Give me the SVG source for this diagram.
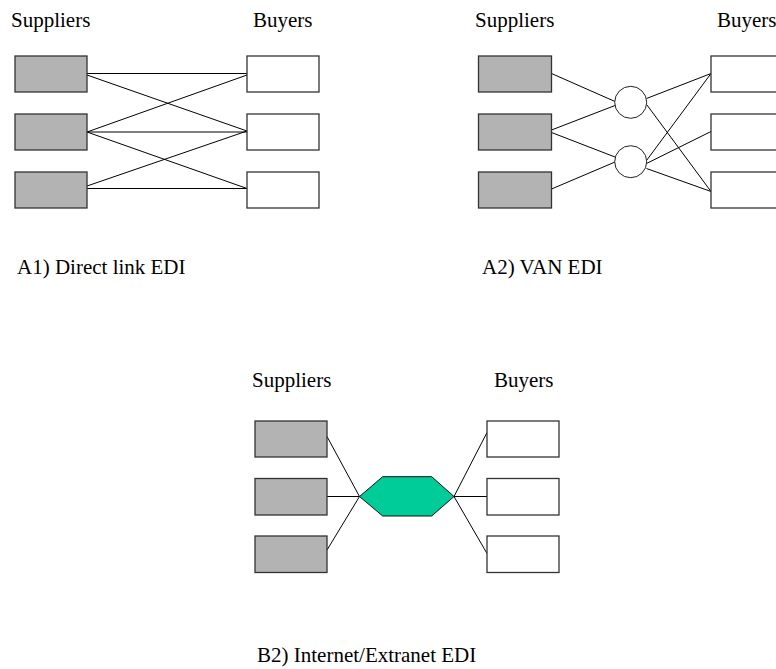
<svg xmlns="http://www.w3.org/2000/svg" width="776" height="669" viewBox="0 0 776 669">
<style>
.s{fill:#b3b3b3;stroke:#333;stroke-width:1.3}
.b{fill:#fff;stroke:#333;stroke-width:1.3}
.c{fill:#fff;stroke:#222;stroke-width:1}
.l{stroke:#000;stroke-width:1;fill:none}
</style>
<rect width="776" height="669" fill="#fff"/>
<g id="connectors">
<line class="l" x1="87" y1="73.5" x2="247" y2="73.5"/>
<line class="l" x1="87" y1="75" x2="247" y2="131"/>
<line class="l" x1="87" y1="132" x2="247" y2="75"/>
<line class="l" x1="87" y1="132" x2="247" y2="132"/>
<line class="l" x1="87" y1="132" x2="247" y2="188.5"/>
<line class="l" x1="87" y1="186" x2="247" y2="131"/>
<line class="l" x1="87" y1="188.5" x2="247" y2="188.5"/>
<line class="l" x1="551.5" y1="73.5" x2="615" y2="101.5"/>
<line class="l" x1="551.5" y1="130" x2="615" y2="105.5"/>
<line class="l" x1="551.5" y1="132.5" x2="615" y2="157"/>
<line class="l" x1="551.5" y1="189" x2="615" y2="162"/>
<line class="l" x1="646.5" y1="98.5" x2="711" y2="73.5"/>
<line class="l" x1="647" y1="105" x2="711" y2="191.5"/>
<line class="l" x1="646.5" y1="160.5" x2="711" y2="73.5"/>
<line class="l" x1="646.5" y1="163.5" x2="711" y2="131.5"/>
<line class="l" x1="646.5" y1="168.5" x2="711" y2="191.5"/>
<line class="l" x1="327" y1="436.5" x2="359.5" y2="496.5"/>
<line class="l" x1="327" y1="496.5" x2="359.5" y2="496.5"/>
<line class="l" x1="327" y1="550" x2="359.5" y2="496.5"/>
<line class="l" x1="454" y1="496.5" x2="487" y2="432.5"/>
<line class="l" x1="454" y1="496.5" x2="487" y2="496.5"/>
<line class="l" x1="454" y1="496.5" x2="487" y2="553.5"/>
</g>
<g id="labels" font-family="'Liberation Serif', 'Times New Roman', serif" font-size="21" fill="#000">
<text x="11" y="27">Suppliers</text>
<text x="253" y="27">Buyers</text>
<text x="17" y="274">A1) Direct link EDI</text>
<text x="475" y="27">Suppliers</text>
<text x="717" y="27">Buyers</text>
<text x="482" y="274">A2) VAN EDI</text>
<text x="252" y="386.5">Suppliers</text>
<text x="494" y="386.5">Buyers</text>
<text x="257" y="662">B2) Internet/Extranet EDI</text>
</g>
<g id="a1">
<g id="a1-s1"><rect class="s" x="15" y="56" width="72" height="36"/></g>
<g id="a1-s2"><rect class="s" x="15" y="114" width="72" height="36"/></g>
<g id="a1-s3"><rect class="s" x="15" y="172" width="72" height="36"/></g>
<g id="a1-b1"><rect class="b" x="247" y="56" width="72" height="36"/></g>
<g id="a1-b2"><rect class="b" x="247" y="114" width="72" height="36"/></g>
<g id="a1-b3"><rect class="b" x="247" y="172" width="72" height="36"/></g>
</g>
<g id="a2">
<g id="a2-s1"><rect class="s" x="478.5" y="56" width="73" height="36"/></g>
<g id="a2-s2"><rect class="s" x="478.5" y="114" width="73" height="36"/></g>
<g id="a2-s3"><rect class="s" x="478.5" y="172" width="73" height="36"/></g>
<g id="a2-v1"><circle class="c" cx="630.7" cy="102.3" r="16"/></g>
<g id="a2-v2"><circle class="c" cx="630.7" cy="161.7" r="16"/></g>
<g id="a2-b1"><rect class="b" x="711" y="56" width="73" height="36"/></g>
<g id="a2-b2"><rect class="b" x="711" y="114" width="73" height="36"/></g>
<g id="a2-b3"><rect class="b" x="711" y="172" width="73" height="36"/></g>
</g>
<g id="b2">
<g id="b2-s1"><rect class="s" x="255" y="421" width="72" height="36"/></g>
<g id="b2-s2"><rect class="s" x="255" y="478.5" width="72" height="36.5"/></g>
<g id="b2-s3"><rect class="s" x="255" y="536" width="72" height="36.5"/></g>
<g id="b2-hub"><polygon points="359.5,496.5 382.7,476.7 431.7,476.7 454,496.5 431.7,516 382.7,516" fill="#00cc99" stroke="#111" stroke-width="1"/></g>
<g id="b2-b1"><rect class="b" x="487" y="421" width="72" height="36"/></g>
<g id="b2-b2"><rect class="b" x="487" y="478.5" width="72" height="36.5"/></g>
<g id="b2-b3"><rect class="b" x="487" y="536" width="72" height="36.5"/></g>
</g>
</svg>
